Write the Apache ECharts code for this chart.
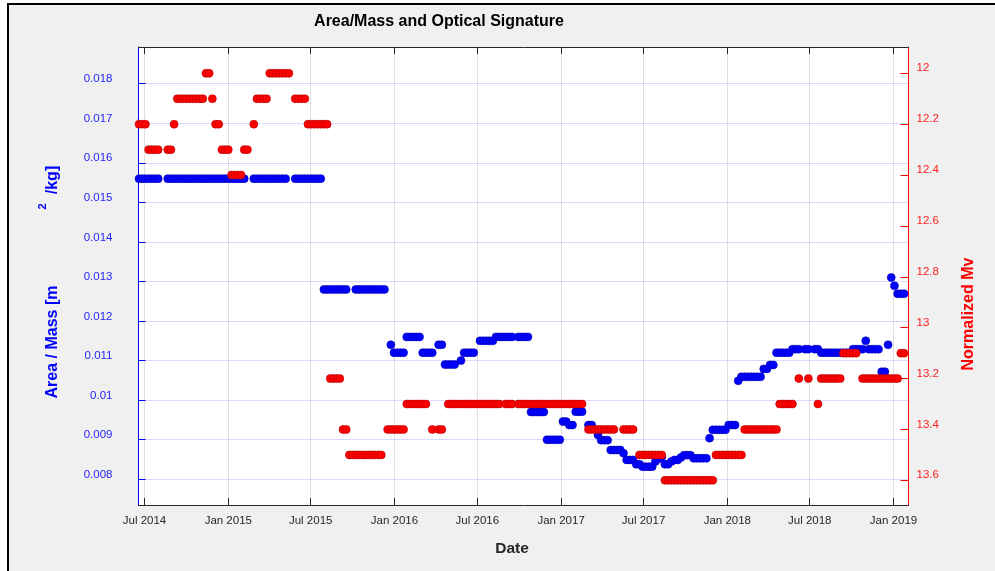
<!DOCTYPE html>
<html>
<head>
<meta charset="utf-8">
<title>Area/Mass and Optical Signature</title>
<script src="https://cdn.jsdelivr.net/npm/echarts@6/dist/echarts.min.js"></script>
<style>
  html, body { margin: 0; padding: 0; background: #ffffff; }
  #frame {
    position: absolute; left: 7px; top: 3px; width: 1000px; height: 600px;
    background: #f0f0f0; border-left: 2px solid #000; border-top: 2px solid #000;
  }
  #chart { position: absolute; left: 0; top: 0; width: 995px; height: 571px; }
  body { width: 995px; height: 571px; overflow: hidden; position: relative; }
</style>
</head>
<body>
<div id="frame"></div>
<div id="chart"></div>
<script>
// Weekly observations, first sample on 2014-06-19
const sampleStart = '2014-06-19';
const sampleStepDays = 7;

// Area / Mass [m^2/kg], one value per week (null = no observation)
const areaMass = [
  0.0156,0.0156,0.0156,0.0156,0.0156,0.0156,0.0156, null,null,
  0.0156,0.0156,0.0156,0.0156,0.0156,0.0156,0.0156,0.0156,0.0156,0.0156,
  0.0156,0.0156,0.0156,0.0156,0.0156,0.0156,0.0156,0.0156,0.0156,0.0156,
  0.0156,0.0156,0.0156,0.0156,0.0156, null,null,
  0.0156,0.0156,0.0156,0.0156,0.0156,0.0156,0.0156,0.0156,0.0156,0.0156,0.0156, null,null,
  0.0156,0.0156,0.0156,0.0156,0.0156,0.0156,0.0156,0.0156,0.0156,
  0.0128,0.0128,0.0128,0.0128,0.0128,0.0128,0.0128,0.0128, null,null,
  0.0128,0.0128,0.0128,0.0128,0.0128,0.0128,0.0128,0.0128,0.0128,0.0128,
  null, 0.0114,
  0.0112,0.0112,0.0112,0.0112,
  0.0116,0.0116,0.0116,0.0116,0.0116,
  0.0112,0.0112,0.0112,0.0112, null,
  0.0114,0.0114,
  0.0109,0.0109,0.0109,0.0109, null,
  0.0110,
  0.0112,0.0112,0.0112,0.0112, null,
  0.0115,0.0115,0.0115,0.0115,0.0115,
  0.0116,0.0116,0.0116,0.0116,0.0116,0.0116, null,
  0.0116,0.0116,0.0116,0.0116,
  0.0097,0.0097,0.0097,0.0097,0.0097,
  0.0090,0.0090,0.0090,0.0090,0.0090,
  0.00946,0.00946,
  0.00937,0.00937,
  0.00971,0.00971,0.00971, null,
  0.00937,0.00937, null,
  0.00912,
  0.00899,0.00899,0.00899,
  0.00874,0.00874,0.00874,0.00874,
  0.00866,
  0.00849,0.00849,0.00849,
  0.00838,0.00838,
  0.00832,0.00832,0.00832,0.00832,
  0.00845, 0.00851, 0.00857,
  0.00838,0.00838,
  0.00845,
  0.00849,0.00849,
  0.00855,
  0.00861,0.00861,0.00861,
  0.00853,0.00853,0.00853,0.00853,0.00853,
  0.00904,
  0.00925,0.00925,0.00925,0.00925,0.00925,
  0.00937,0.00937,0.00937,
  0.01049,
  0.01059,0.01059,0.01059,0.01059,0.01059,0.01059,0.01059,
  0.01079,0.01079,
  0.01089,0.01089,
  0.0112,0.0112,0.0112,0.0112,0.0112,
  0.01129,0.01129,0.01129, null,
  0.01129,0.01129, null,
  0.01129,0.01129,
  0.0112,0.0112,0.0112,0.0112,0.0112,0.0112,0.0112,0.0112,0.0112,0.0112,
  0.01129,0.01129,0.01129,0.01129,
  0.0115,
  0.01129,0.01129,0.01129,0.01129,
  0.01072,0.01072,
  0.0114,
  0.0131,
  0.01289,
  0.01269,0.01269,0.01269
];

// Normalized Mv, one value per week (null = no observation)
const normalizedMv = [
  12.2,12.2,12.2,
  12.3,12.3,12.3,12.3, null,null,
  12.3,12.3,
  12.2,
  12.1,12.1,12.1,12.1,12.1,12.1,12.1,12.1,12.1,
  12.0,12.0,
  12.1,
  12.2,12.2,
  12.3,12.3,12.3,
  12.4,12.4,12.4,12.4,
  12.3,12.3, null,
  12.2,
  12.1,12.1,12.1,12.1,
  12.0,12.0,12.0,12.0,12.0,12.0,12.0, null,
  12.1,12.1,12.1,12.1,
  12.2,12.2,12.2,12.2,12.2,12.2,12.2,
  13.2,13.2,13.2,13.2,
  13.4,13.4,
  13.5,13.5,13.5,13.5,13.5,13.5,13.5,13.5,13.5,13.5,13.5, null,
  13.4,13.4,13.4,13.4,13.4,13.4,
  13.3,13.3,13.3,13.3,13.3,13.3,13.3, null,
  13.4, null,
  13.4,13.4, null,
  13.3,13.3,13.3,13.3,13.3,13.3,13.3,13.3,13.3,13.3,
  13.3,13.3,13.3,13.3,13.3,13.3,13.3, null,
  13.3,13.3,13.3, null,
  13.3,13.3,13.3,13.3,13.3,13.3,13.3,13.3,13.3,13.3,
  13.3,13.3,13.3,13.3,13.3,13.3,13.3,13.3,13.3,13.3,13.3, null,
  13.4,13.4,13.4,13.4,13.4,13.4,13.4,13.4,13.4, null,null,
  13.4,13.4,13.4,13.4, null,
  13.5,13.5,13.5,13.5,13.5,13.5,13.5,13.5,
  13.6,13.6,13.6,13.6,13.6,13.6,13.6,13.6,13.6,13.6,13.6,13.6,13.6,13.6,13.6,13.6,
  13.5,13.5,13.5,13.5,13.5,13.5,13.5,13.5,13.5,
  13.4,13.4,13.4,13.4,13.4,13.4,13.4,13.4,13.4,13.4,13.4,
  13.3,13.3,13.3,13.3,13.3, null,
  13.2, null,null,
  13.2, null,null,
  13.3,
  13.2,13.2,13.2,13.2,13.2,13.2,13.2,
  13.1,13.1,13.1,13.1,13.1, null,
  13.2,13.2,13.2,13.2,13.2,13.2,13.2,13.2,13.2,13.2,13.2,13.2,
  13.1,13.1
];

// Axis ticks and their labels
const dateTicks = ['2014-07-01','2015-01-01','2015-07-01','2016-01-01','2016-07-01',
                   '2017-01-01','2017-07-01','2018-01-01','2018-07-01','2019-01-01'];
const dateTickLabels = ['Jul 2014','Jan 2015','Jul 2015','Jan 2016','Jul 2016',
                        'Jan 2017','Jul 2017','Jan 2018','Jul 2018','Jan 2019'];
const areaTicks = [0.008,0.009,0.010,0.011,0.012,0.013,0.014,0.015,0.016,0.017,0.018];
const areaTickLabels = ['0.008','0.009','0.01','0.011','0.012','0.013','0.014','0.015','0.016','0.017','0.018'];
const mvTicks = [12.0,12.2,12.4,12.6,12.8,13.0,13.2,13.4,13.6];
const mvTickLabels = ['12','12.2','12.4','12.6','12.8','13','13.2','13.4','13.6'];

const DAY = 86400000;
const FONT = '"Liberation Sans", Arial, Helvetica, sans-serif';

function toWeeklyPoints(values) {
  const t0 = Date.parse(sampleStart);
  const pts = [];
  values.forEach((v, i) => { if (v !== null) pts.push([t0 + i * sampleStepDays * DAY, v]); });
  return pts;
}
function labelFor(ticks, labels) {
  return function (v) {
    for (let i = 0; i < ticks.length; i++) {
      if (Math.abs(ticks[i] - v) < 1e-9 * Math.max(1, Math.abs(v))) return labels[i];
    }
    return '';
  };
}

const dateTickValues = dateTicks.map(d => Date.parse(d));
const xMin = Date.parse('2014-06-17T19:00:00Z');
const xMax = Date.parse('2019-02-02T22:00:00Z');

const chart = echarts.init(document.getElementById('chart'), null, { renderer: 'canvas' });

const option = {
  animation: false,
  backgroundColor: 'transparent',
  grid: {
    left: 138.5, right: 86.5, top: 47, bottom: 66,
    show: true, backgroundColor: '#ffffff', borderWidth: 0,
    containLabel: false, outerBoundsMode: 'none'
  },
  xAxis: [
    {
      type: 'value', min: xMin, max: xMax, position: 'bottom',
      axisLine: { show: true, onZero: false, lineStyle: { color: '#262626', width: 1 } },
      axisTick: { show: true, inside: true, length: 7, customValues: dateTickValues,
                  lineStyle: { color: '#262626', width: 1 } },
      axisLabel: { show: true, customValues: dateTickValues, margin: 10,
                   formatter: labelFor(dateTickValues, dateTickLabels),
                   color: '#262626', fontFamily: FONT, fontSize: 11.5 },
      splitLine: { show: true, lineStyle: { color: 'rgba(38,38,38,0.15)', width: 1 } }
    },
    {
      type: 'value', min: xMin, max: xMax, position: 'top',
      axisLine: { show: true, onZero: false, lineStyle: { color: '#262626', width: 1 } },
      axisTick: { show: true, inside: true, length: 7, customValues: dateTickValues,
                  lineStyle: { color: '#262626', width: 1 } },
      axisLabel: { show: false },
      splitLine: { show: false }
    }
  ],
  yAxis: [
    {
      type: 'value', min: 0.00735, max: 0.018928, position: 'left',
      axisLine: { show: true, onZero: false, lineStyle: { color: '#0000ff', width: 1 } },
      axisTick: { show: true, inside: true, length: 7, customValues: areaTicks,
                  lineStyle: { color: '#0000ff', width: 1 } },
      axisLabel: { show: true, customValues: areaTicks, margin: 26,
                   formatter: labelFor(areaTicks, areaTickLabels),
                   color: '#1f1fff', fontFamily: FONT, fontSize: 11.5,
                   verticalAlign: 'bottom', lineHeight: 9 },
      splitLine: { show: true, lineStyle: { color: 'rgba(0,0,255,0.15)', width: 1 } }
    },
    {
      type: 'value', min: 11.8965, max: 13.697, inverse: true, position: 'right',
      axisLine: { show: true, onZero: false, lineStyle: { color: '#ff0000', width: 1 } },
      axisTick: { show: true, inside: true, length: 8, customValues: mvTicks,
                  lineStyle: { color: '#ff0000', width: 1 } },
      axisLabel: { show: true, customValues: mvTicks, margin: 8,
                   formatter: labelFor(mvTicks, mvTickLabels),
                   color: '#ff1f1f', fontFamily: FONT, fontSize: 11.5,
                   verticalAlign: 'bottom', lineHeight: 10 },
      splitLine: { show: false }
    }
  ],
  series: [
    {
      name: 'Area / Mass', type: 'scatter', xAxisIndex: 0, yAxisIndex: 0,
      data: toWeeklyPoints(areaMass), symbol: 'circle', symbolSize: 8, clip: false,
      itemStyle: { color: '#0000ff', borderColor: '#0000b0', borderWidth: 0.6, opacity: 1 },
      emphasis: { disabled: true }, z: 2
    },
    {
      name: 'Normalized Mv', type: 'scatter', xAxisIndex: 0, yAxisIndex: 1,
      data: toWeeklyPoints(normalizedMv), symbol: 'circle', symbolSize: 8, clip: false,
      itemStyle: { color: '#ff0000', borderColor: '#b00000', borderWidth: 0.6, opacity: 1 },
      emphasis: { disabled: true }, z: 3
    }
  ],
  graphic: [
    { type: 'text', x: 439, y: 21.5,
      style: { text: 'Area/Mass and Optical Signature', fill: '#000000',
               font: 'bold 16px ' + FONT, align: 'center', verticalAlign: 'middle',
               textAlign: 'center', textVerticalAlign: 'middle' } },
    { type: 'text', x: 512, y: 548.5,
      style: { text: 'Date', fill: '#262626',
               font: 'bold 15.5px ' + FONT, align: 'center', verticalAlign: 'middle',
               textAlign: 'center', textVerticalAlign: 'middle' } },
    { type: 'text', x: 52.5, y: 342, rotation: Math.PI / 2,
      style: { text: 'Area / Mass [m', fill: '#0000ff',
               font: 'bold 16px ' + FONT, align: 'center', verticalAlign: 'middle',
               textAlign: 'center', textVerticalAlign: 'middle' } },
    { type: 'text', x: 42.5, y: 206.5, rotation: Math.PI / 2,
      style: { text: '2', fill: '#0000ff',
               font: 'bold 11px ' + FONT, align: 'center', verticalAlign: 'middle',
               textAlign: 'center', textVerticalAlign: 'middle' } },
    { type: 'text', x: 52.5, y: 180, rotation: Math.PI / 2,
      style: { text: '/kg]', fill: '#0000ff',
               font: 'bold 16px ' + FONT, align: 'center', verticalAlign: 'middle',
               textAlign: 'center', textVerticalAlign: 'middle' } },
    { type: 'text', x: 969, y: 314, rotation: Math.PI / 2,
      style: { text: 'Normalized Mv', fill: '#ff0000',
               font: 'bold 16px ' + FONT, align: 'center', verticalAlign: 'middle',
               textAlign: 'center', textVerticalAlign: 'middle' } }
  ]
};

chart.setOption(option);
</script>
</body>
</html>
